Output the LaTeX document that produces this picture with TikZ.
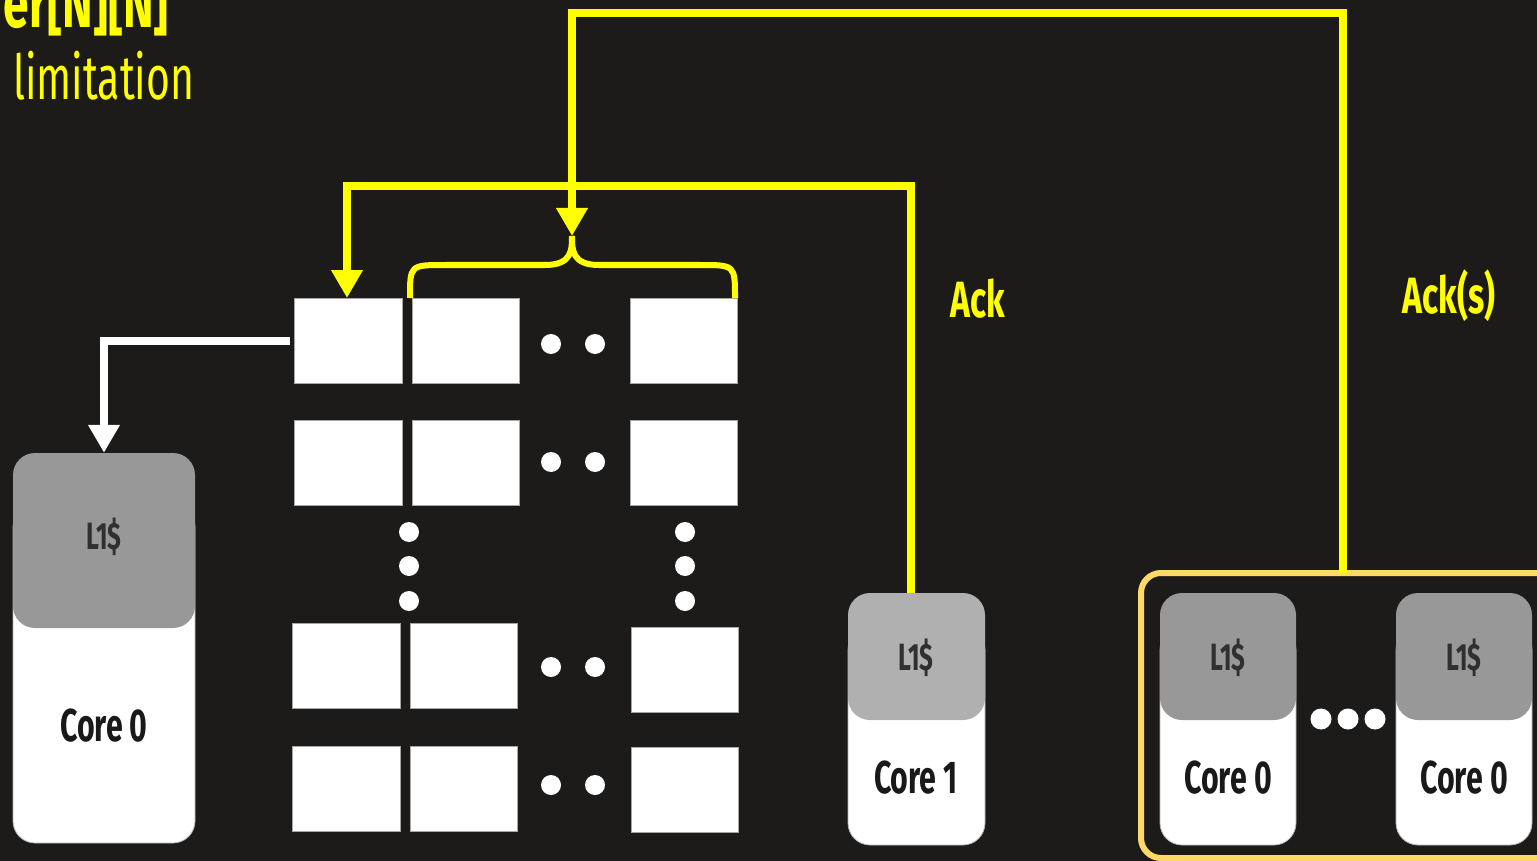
\documentclass[tikz,border=0pt]{standalone}
\usepackage{fontspec}
\setmainfont{Fira Sans}[FakeStretch=0.66]
\usetikzlibrary{arrows.meta}
\definecolor{bg}{RGB}{28,27,26}
\definecolor{yel}{RGB}{255,255,0}
\definecolor{grpc}{RGB}{255,217,102}
\definecolor{cachec}{RGB}{152,152,152}
\definecolor{cachelt}{RGB}{176,176,176}
\definecolor{txtdark}{RGB}{48,48,48}
\begin{document}
\begin{tikzpicture}[x=1pt,y=-1pt,
 cell/.style={draw=gray!70,line width=0.8pt,fill=white,minimum width=107pt,minimum height=85pt,inner sep=0pt},
 dotc/.style={circle,fill=white,minimum size=20pt,inner sep=0pt},
 body/.style={fill=white,draw=gray!60,line width=0.8pt,rounded corners=22pt,inner sep=0pt},
 cache/.style={fill=cachec,rounded corners=22pt,inner sep=0pt},
 cachetxt/.style={text=txtdark,font=\fontsize{38}{42}\selectfont\bfseries},
 coretxt/.style={text=black!90,font=\fontsize{46}{50}\selectfont\bfseries},
 ylab/.style={text=yel,font=\fontsize{51}{55}\selectfont\bfseries},
 yline/.style={draw=yel,line width=8pt},
 wline/.style={draw=white,line width=8pt},
 tip/.style={-{Triangle[width=30pt,length=28pt]}},
 brace/.style={draw=yel,line width=6pt},
 grp/.style={draw=grpc,line width=6pt,rounded corners=20pt,inner sep=0pt}
]
\fill[bg] (0,0) rectangle (1537,861);
\useasboundingbox (0,0) rectangle (1537,861);

% title texts
\node[anchor=base east,text=yel,inner sep=0pt,font=\fontsize{70}{74}\selectfont\bfseries] (ttl) at (169,28) {er[N][N]};
\node[anchor=base west,text=yel,inner sep=0pt,font=\fontsize{62}{66}\selectfont] (lim) at (13,100) {limitation};

% grid cells
\node[cell,minimum width=108pt] (c11) at (348,340.5) {};
\node[cell] (c12) at (465.5,340.5) {};
\node[cell] (c13) at (683.5,340.5) {};
\node[cell,minimum width=108pt] (c21) at (348,462.5) {};
\node[cell] (c22) at (465.5,462.5) {};
\node[cell] (c23) at (683.5,462.5) {};
\node[cell,minimum width=108pt] (c31) at (346,666) {};
\node[cell] (c32) at (463.5,666) {};
\node[cell] (c33) at (684.5,670) {};
\node[cell,minimum width=108pt] (c41) at (346,788.5) {};
\node[cell] (c42) at (463.5,788.5) {};
\node[cell] (c43) at (684.5,790) {};

% dots
\foreach \y/\n in {344/a,462/b,667/c,785/d}{
  \node[dotc] (h1\n) at (551,\y) {};
  \node[dotc] (h2\n) at (595,\y) {};
}
\foreach \y/\n in {532/a,566/b,601/c}{
  \node[dotc] (v1\n) at (409,\y) {};
  \node[dotc] (v2\n) at (685,\y) {};
}

% left core
\node[body,minimum width=182pt,minimum height=338pt] (b0) at (104,674) {};
\node[cache,minimum width=182pt,minimum height=175pt] (k0) at (104,540.5) {};
\node[cachetxt] (k0t) at (104,537) {L1\$};
\node[coretxt] (b0t) at (104,726) {Core 0};

% core 1
\node[body,minimum width=137pt,minimum height=217pt] (b1) at (916.5,736.5) {};
\node[cache,fill=cachelt,minimum width=137pt,minimum height=127pt] (k1) at (916.5,656.5) {};
\node[cachetxt] (k1t) at (916,658) {L1\$};
\node[coretxt] (b1t) at (916,778) {Core 1};

% group
\node[grp,minimum width=424pt,minimum height=285pt] (g) at (1353,715.5) {};
\node[body,minimum width=136pt,minimum height=217pt] (b2) at (1228,736.5) {};
\node[cache,minimum width=136pt,minimum height=127pt] (k2) at (1228,656.5) {};
\node[cachetxt] (k2t) at (1228,658) {L1\$};
\node[coretxt] (b2t) at (1228,778) {Core 0};
\node[body,minimum width=136pt,minimum height=217pt] (b3) at (1464,736.5) {};
\node[cache,minimum width=136pt,minimum height=127pt] (k3) at (1464,656.5) {};
\node[cachetxt] (k3t) at (1464,658) {L1\$};
\node[coretxt] (b3t) at (1464,778) {Core 0};
\foreach \x/\n in {1321/a,1348/b,1375/c}{
  \node[dotc,minimum size=21pt] (gd\n) at (\x,719) {};
}

% labels
\node[ylab] (ack) at (978,299) {Ack};
\node[ylab] (acks) at (1449,296) {Ack(s)};

% white arrow
\coordinate (ws) at (290,341);
\draw[wline,tip] (ws) -| (k0.north);

% yellow ack from core 1
\coordinate (y1s) at (911,593);
\coordinate (y1e) at (347,298);
\draw[yline,tip] (y1s) -- (911,186) -| (y1e);

% brace
\coordinate (bt) at (572,236);
\coordinate (bl) at (410,298);
\coordinate (br) at (735,298);
\draw[brace] (bl) .. controls (410,265) and (410,265) .. (445,265) -- (545,265)
  .. controls (572,265) and (572,250) .. (bt)
  .. controls (572,250) and (572,265) .. (599,265) -- (700,265)
  .. controls (735,265) and (735,265) .. (br);

% yellow ack(s) from group
\coordinate (y2s) at (1343,573);
\draw[yline,tip] (y2s) -- (1343,13) -| (bt);
\end{tikzpicture}
\end{document}
